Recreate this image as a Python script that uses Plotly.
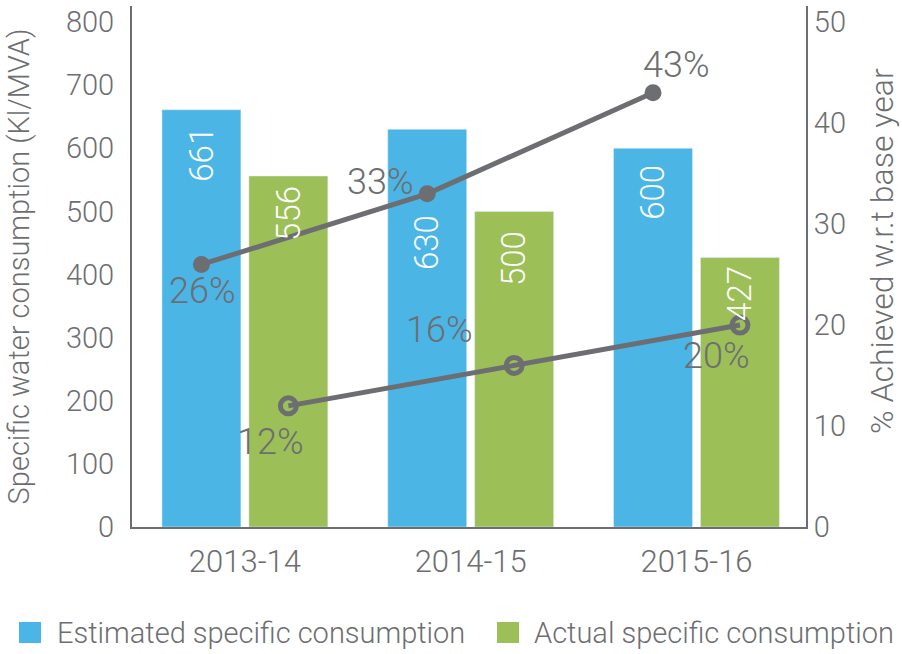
import plotly.graph_objects as go

# ---- data ----
categories = ["2013-14", "2014-15", "2015-16"]
estimated = [661, 630, 600]          # Kl/MVA
actual = [556, 500, 427]             # Kl/MVA
pct_estimated = [26, 33, 43]         # % achieved w.r.t. base year (filled markers)
pct_actual = [12, 16, 20]            # % achieved w.r.t. base year (open markers)
left_ticks = [0, 100, 200, 300, 400, 500, 600, 700, 800]
right_ticks = [0, 10, 20, 30, 40, 50]
series_names = ["Estimated specific consumption", "Actual specific consumption"]

# ---- style ----
W, H = 902, 654
PL, PR, PT, PB = 132, 806, 6, 527          # plot-area edges in px
BLUE = "#4bb5e6"
GREEN = "#9cbf57"
GREY = "#6d6e71"
FONT = "Roboto"
BARGAP, GROUPGAP = 0.23, 0.092
half_slot = (1 - BARGAP) / 4              # offset of each bar centre from category centre

# px offsets for the value labels inside the bars (distance below bar top)
drop_est = [15, 84, 15]
drop_act = [8, 18, 6]
# px offsets (dx, dy) of the percentage labels from their markers
off_est = [(1, -27), (-47, 12), (23, 28)]
off_act = [(-18, -36), (-75, 35), (-23, -31)]

idx = list(range(len(categories)))
x_est = [i - half_slot for i in idx]
x_act = [i + half_slot for i in idx]


def px_x(px):
    return (px - PL) / (PR - PL)


def px_y(py):
    return (PB - py) / (PB - PT)


def font(size, color=GREY):
    return dict(family=FONT, size=size, color=color, weight=300)


fig = go.Figure()
fig.add_trace(go.Bar(x=idx, y=estimated, name=series_names[0], marker_color=BLUE,
                     showlegend=False))
fig.add_trace(go.Bar(x=idx, y=actual, name=series_names[1], marker_color=GREEN,
                     showlegend=False))
fig.add_trace(go.Scatter(x=x_est, y=pct_estimated, yaxis="y2", mode="lines+markers",
                         line=dict(color=GREY, width=5),
                         marker=dict(size=17, color=GREY), showlegend=False))
fig.add_trace(go.Scatter(x=x_act, y=pct_actual, yaxis="y2", mode="lines+markers",
                         line=dict(color=GREY, width=5),
                         marker=dict(symbol="circle-open", size=16, color=GREY,
                                     line=dict(width=5, color=GREY)),
                         showlegend=False))

annotations = []
# bar values, rotated inside the bars
for xs, vals, drops in ((x_est, estimated, drop_est), (x_act, actual, drop_act)):
    for x, v, d in zip(xs, vals, drops):
        annotations.append(dict(x=x, y=v, xref="x", yref="y", text=str(v),
                                textangle=-90, showarrow=False, yanchor="top",
                                xanchor="center", yshift=-d,
                                font=font(33, "white")))
# percentage labels next to the markers
for xs, vals, offs in ((x_est, pct_estimated, off_est), (x_act, pct_actual, off_act)):
    for x, v, (dx, dy) in zip(xs, vals, offs):
        annotations.append(dict(x=x, y=v, xref="x", yref="y2", text=f"{v}%",
                                showarrow=False, xshift=dx, yshift=dy,
                                font=font(36)))

# right-hand axis title
annotations.append(dict(x=px_x(882), y=px_y(251), xref="paper", yref="paper",
                        text="% Achieved w.r.t base year", textangle=-90,
                        showarrow=False, xanchor="center", yanchor="middle",
                        font=font(32)))

# legend drawn below the chart
shapes = []
legend_items = [(19, BLUE, 55, series_names[0]), (497, GREEN, 532, series_names[1])]
for sq_x, col, tx, label in legend_items:
    shapes.append(dict(type="rect", xref="paper", yref="paper",
                       x0=px_x(sq_x), x1=px_x(sq_x + 22),
                       y0=px_y(643), y1=px_y(622),
                       fillcolor=col, line=dict(width=0)))
    annotations.append(dict(x=px_x(tx), y=px_y(633), xref="paper", yref="paper",
                            text=label, showarrow=False, xanchor="left", yanchor="middle",
                            font=font(29)))

fig.update_layout(
    width=W, height=H,
    margin=dict(l=PL, r=W - PR, t=PT, b=H - PB),
    paper_bgcolor="white", plot_bgcolor="white",
    barmode="group", bargap=BARGAP, bargroupgap=GROUPGAP,
    font=dict(family=FONT, color=GREY, weight=300),
    xaxis=dict(range=[-0.5, 2.485], tickvals=idx, ticktext=categories,
               showgrid=False, zeroline=False, showline=True, linecolor=GREY, linewidth=2,
               ticks="", tickfont=font(31), ticklabelstandoff=6),
    yaxis=dict(range=[0, 825.4], tickvals=left_ticks, showgrid=False, zeroline=False,
               showline=True, linecolor=GREY, linewidth=2, ticks="",
               tickfont=font(29), ticklabelstandoff=10,
               title=dict(text="Specific water consumption (Kl/MVA)", font=font(29),
                          standoff=28)),
    yaxis2=dict(range=[0, 51.6], tickvals=right_ticks, overlaying="y", side="right",
                showgrid=False, zeroline=False, showline=True, linecolor=GREY, linewidth=2,
                ticks="", tickfont=font(29), ticklabelstandoff=0),
    annotations=annotations,
    shapes=shapes,
)

fig.write_html("out.html")
